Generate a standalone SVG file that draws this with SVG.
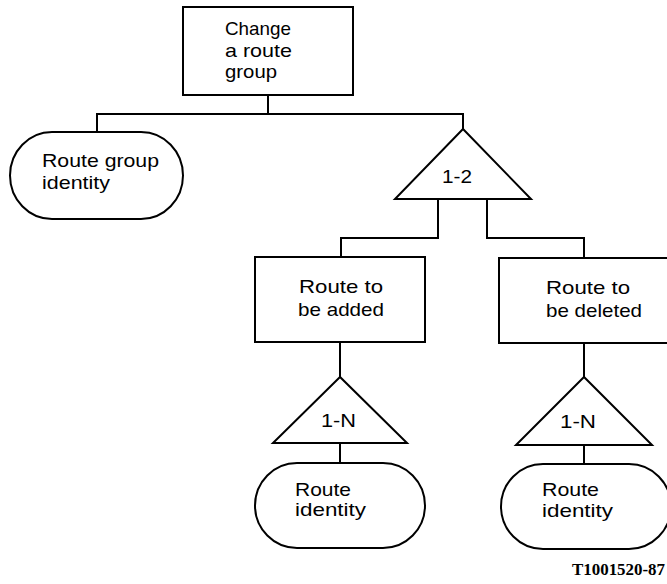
<svg xmlns="http://www.w3.org/2000/svg" width="667" height="584" viewBox="0 0 667 584">
<style>
.s{fill:#fff;stroke:#000;stroke-width:2}
.c{fill:none;stroke:#000;stroke-width:2}
text{font-family:"Liberation Sans",Arial,sans-serif;font-size:19px;fill:#000}
.id{font-family:"Liberation Serif","Times New Roman",serif;font-size:17px;font-weight:bold}
</style>
<rect width="667" height="584" fill="#fff"/>
<g id="connectors">
<path class="c" d="M268,95 V114"/>
<path class="c" d="M97,132 V114 H463 V129"/>
<path class="c" d="M438,199 V238 H341 V257"/>
<path class="c" d="M487,199 V238 H584 V258"/>
<path class="c" d="M340,342 V377"/>
<path class="c" d="M340,443 V463"/>
<path class="c" d="M584,343 V377"/>
<path class="c" d="M584,445 V464"/>
</g>
<g id="change-route-group">
<rect class="s" x="183" y="7" width="170" height="88"/>
<text x="225" y="35" textLength="66" lengthAdjust="spacingAndGlyphs">Change</text>
<text x="225" y="57" textLength="67" lengthAdjust="spacingAndGlyphs">a route</text>
<text x="225" y="78" textLength="52" lengthAdjust="spacingAndGlyphs">group</text>
</g>
<g id="route-group-identity">
<rect class="s" x="10" y="132" width="173" height="87" rx="42" ry="43.5"/>
<text x="42" y="167" textLength="117" lengthAdjust="spacingAndGlyphs">Route group</text>
<text x="42" y="189" textLength="68" lengthAdjust="spacingAndGlyphs">identity</text>
</g>
<g id="sel-1-2">
<polygon class="s" points="463,129 395,199 531,199"/>
<text x="442" y="183" textLength="30" lengthAdjust="spacingAndGlyphs">1-2</text>
</g>
<g id="route-added">
<rect class="s" x="255" y="257" width="170" height="85"/>
<text x="299" y="293" textLength="84" lengthAdjust="spacingAndGlyphs">Route to</text>
<text x="298" y="316" textLength="86" lengthAdjust="spacingAndGlyphs">be added</text>
</g>
<g id="route-deleted">
<rect class="s" x="499" y="258" width="170" height="85"/>
<text x="546" y="294" textLength="84" lengthAdjust="spacingAndGlyphs">Route to</text>
<text x="546" y="317" textLength="96" lengthAdjust="spacingAndGlyphs">be deleted</text>
</g>
<g id="sel-1-n-a">
<polygon class="s" points="340,377 273,443 407,443"/>
<text x="321" y="427" textLength="35" lengthAdjust="spacingAndGlyphs">1-N</text>
</g>
<g id="sel-1-n-b">
<polygon class="s" points="584,377 516,445 652,445"/>
<text x="560" y="428" textLength="36" lengthAdjust="spacingAndGlyphs">1-N</text>
</g>
<g id="route-identity-a">
<rect class="s" x="255" y="463" width="170" height="85" rx="42" ry="42.5"/>
<text x="295" y="496" textLength="56" lengthAdjust="spacingAndGlyphs">Route</text>
<text x="295" y="516" textLength="71" lengthAdjust="spacingAndGlyphs">identity</text>
</g>
<g id="route-identity-b">
<rect class="s" x="501" y="464" width="170" height="85" rx="42" ry="42.5"/>
<text x="542" y="496" textLength="57" lengthAdjust="spacingAndGlyphs">Route</text>
<text x="542" y="517" textLength="71" lengthAdjust="spacingAndGlyphs">identity</text>
</g>
<text class="id" x="572" y="575" textLength="93" lengthAdjust="spacingAndGlyphs">T1001520-87</text>
</svg>
